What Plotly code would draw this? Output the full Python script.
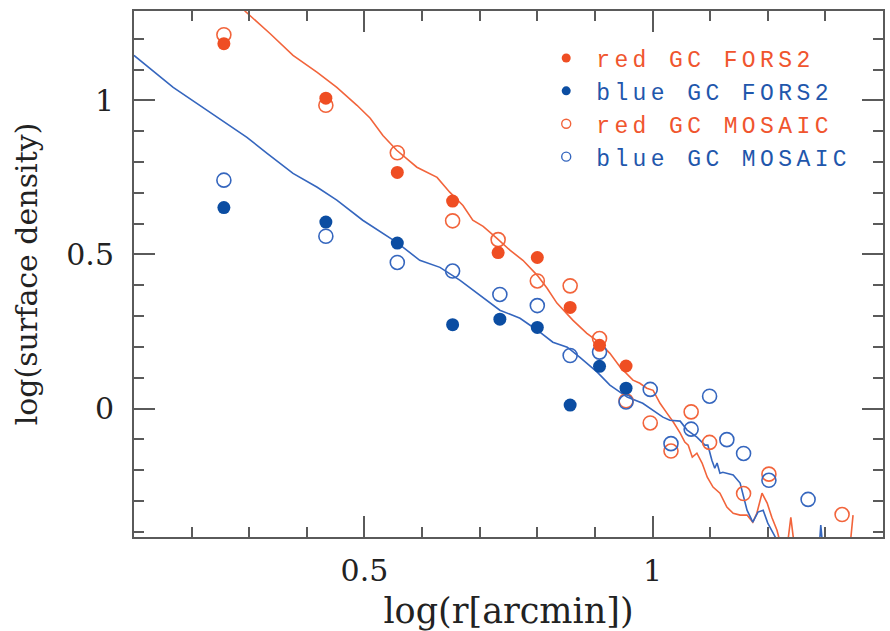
import plotly.graph_objects as go

# --- data: globular-cluster surface density profiles ---
# binned counts (log radius in arcmin, log surface density)
r_fors2 = [0.256, 0.433, 0.557, 0.653, 0.732, 0.800, 0.857, 0.908, 0.954]
red_fors2 = [1.184, 1.007, 0.766, 0.673, 0.506, 0.490, 0.328, 0.205, 0.138]
r_blue_fors2 = [0.256, 0.433, 0.557, 0.653, 0.735, 0.800, 0.857, 0.908, 0.954]
blue_fors2 = [0.652, 0.605, 0.537, 0.272, 0.290, 0.263, 0.011, 0.137, 0.066]

r_red_mosaic = [0.256, 0.433, 0.557, 0.653, 0.732, 0.800, 0.857, 0.908, 0.954,
                0.996, 1.032, 1.067, 1.099, 1.158, 1.202, 1.329]
red_mosaic = [1.213, 0.984, 0.830, 0.609, 0.548, 0.414, 0.398, 0.227, 0.025,
              -0.047, -0.138, -0.011, -0.110, -0.276, -0.213, -0.344]
r_blue_mosaic = [0.256, 0.433, 0.557, 0.653, 0.735, 0.800, 0.857, 0.908, 0.954,
                 0.996, 1.032, 1.067, 1.099, 1.129, 1.158, 1.202, 1.270]
blue_mosaic = [0.741, 0.559, 0.474, 0.446, 0.370, 0.334, 0.172, 0.183, 0.021,
               0.062, -0.114, -0.067, 0.040, -0.101, -0.146, -0.233, -0.295]

# running profiles
r_red_curve = [0.279, 0.293, 0.336, 0.376, 0.418, 0.452, 0.487, 0.510, 0.532, 0.556,
               0.591, 0.626, 0.648, 0.671, 0.688, 0.706, 0.730, 0.753, 0.775, 0.800,
               0.817, 0.834, 0.862, 0.886, 0.909, 0.926, 0.944, 0.966, 0.978, 0.990,
               1.001, 1.013, 1.025, 1.036, 1.048, 1.056, 1.062, 1.069, 1.077, 1.086,
               1.095, 1.105, 1.117, 1.129, 1.140, 1.152, 1.164, 1.174, 1.181, 1.190,
               1.199, 1.207, 1.216, 1.225, 1.233, 1.240, 1.247, 1.291, 1.334, 1.343,
               1.348]
red_curve = [1.324, 1.289, 1.217, 1.146, 1.091, 1.042, 0.984, 0.942, 0.886, 0.838,
             0.783, 0.750, 0.702, 0.659, 0.611, 0.591, 0.552, 0.513, 0.481, 0.432,
             0.390, 0.342, 0.286, 0.244, 0.212, 0.179, 0.134, 0.092, 0.082, 0.066,
             0.059, 0.017, -0.015, -0.044, -0.080, -0.109, -0.119, -0.158, -0.145, -0.177,
             -0.223, -0.255, -0.275, -0.320, -0.340, -0.346, -0.346, -0.369, -0.340, -0.275,
             -0.307, -0.353, -0.395, -0.460, -0.460, -0.353, -0.460, -0.490, -0.460, -0.443,
             -0.346]

r_blue_curve = [0.100, 0.168, 0.209, 0.261, 0.296, 0.331, 0.376, 0.418, 0.452, 0.497,
                0.556, 0.596, 0.631, 0.666, 0.701, 0.735, 0.770, 0.800, 0.827, 0.852,
                0.874, 0.904, 0.926, 0.956, 0.983, 1.001, 1.018, 1.030, 1.048, 1.060,
                1.077, 1.091, 1.096, 1.103, 1.108, 1.112, 1.117, 1.122, 1.140, 1.152,
                1.164, 1.174, 1.183, 1.192, 1.200, 1.213, 1.225, 1.256, 1.289, 1.292,
                1.296]
blue_curve = [1.146, 1.042, 0.990, 0.925, 0.880, 0.828, 0.763, 0.718, 0.676, 0.611,
              0.539, 0.481, 0.458, 0.416, 0.368, 0.319, 0.293, 0.254, 0.215, 0.199,
              0.166, 0.118, 0.076, 0.037, 0.017, -0.006, -0.028, -0.038, -0.041, -0.070,
              -0.093, -0.119, -0.119, -0.168, -0.194, -0.177, -0.210, -0.207, -0.216, -0.242,
              -0.330, -0.369, -0.336, -0.330, -0.372, -0.417, -0.476, -0.490, -0.460, -0.378,
              -0.460]

legend_names = ["red GC FORS2", "blue GC FORS2", "red GC MOSAIC", "blue GC MOSAIC"]

RED = "#EF4E23"
BLUE = "#0B4DA2"
RED_LINE = "#F2643B"
BLUE_LINE = "#3566BE"
RED_TXT = "#F0552E"
BLUE_TXT = "#1F57AC"
AXIS = "#5a5a5a"
TEXT = "#222222"

fig = go.Figure()

fig.add_trace(go.Scatter(x=r_red_curve, y=red_curve, mode="lines",
                         line=dict(color=RED_LINE, width=1.6), showlegend=False,
                         hoverinfo="skip"))
fig.add_trace(go.Scatter(x=r_blue_curve, y=blue_curve, mode="lines",
                         line=dict(color=BLUE_LINE, width=1.6), showlegend=False,
                         hoverinfo="skip"))

fig.add_trace(go.Scatter(x=r_red_mosaic, y=red_mosaic, mode="markers",
                         marker=dict(symbol="circle-open", size=14, color=RED_LINE,
                                     line=dict(width=1.6)), showlegend=False))
fig.add_trace(go.Scatter(x=r_blue_mosaic, y=blue_mosaic, mode="markers",
                         marker=dict(symbol="circle-open", size=14, color=BLUE_LINE,
                                     line=dict(width=1.6)), showlegend=False))
fig.add_trace(go.Scatter(x=r_fors2, y=red_fors2, mode="markers",
                         marker=dict(symbol="circle", size=13, color=RED,
                                     line=dict(width=0)),
                         showlegend=False))
fig.add_trace(go.Scatter(x=r_blue_fors2, y=blue_fors2, mode="markers",
                         marker=dict(symbol="circle", size=13, color=BLUE,
                                     line=dict(width=0)),
                         showlegend=False))

# legend entries (small symbols, coloured labels)
leg_styles = [
    ("circle", RED, RED_TXT, 0),
    ("circle", BLUE, BLUE_TXT, 0),
    ("circle-open", RED_LINE, RED_TXT, 1.4),
    ("circle-open", BLUE_LINE, BLUE_TXT, 1.4),
]
for i, (name, (sym, mcol, tcol, lw)) in enumerate(zip(legend_names, leg_styles)):
    fig.add_trace(go.Scatter(
        x=[None], y=[None], mode="markers",
        marker=dict(symbol=sym, size=9, color=mcol, line=dict(width=lw, color=mcol)),
        name=f'<span style="color:{tcol};letter-spacing:4.4px">{name}</span>',
        legendgroup=f"g{i}", showlegend=True))

axis_common = dict(
    showline=True, linecolor=AXIS, linewidth=2, mirror="allticks",
    ticks="inside", ticklen=21, tickwidth=2, tickcolor=AXIS,
    showgrid=False, zeroline=False, automargin=False,
    tickfont=dict(family="DejaVu Serif", size=30, color=TEXT),
    minor=dict(ticks="inside", ticklen=10, tickwidth=2, tickcolor=AXIS,
               dtick=0.1, tick0=0, showgrid=False),
)

fig.update_xaxes(range=[0.1, 1.4], dtick=0.5, tick0=0, ticklabelstandoff=6,
                 title=dict(text="log(r[arcmin])", standoff=14,
                            font=dict(family="DejaVu Serif", size=35, color=TEXT)),
                 **axis_common)
fig.update_yaxes(range=[-0.417, 1.29], dtick=0.5, tick0=0, ticklabelstandoff=12,
                 title=dict(text="log(surface density)", standoff=20,
                            font=dict(family="DejaVu Serif", size=30, color=TEXT)),
                 **axis_common)

fig.update_layout(
    width=890, height=631,
    margin=dict(l=134, r=7, t=11, b=94),
    plot_bgcolor="white", paper_bgcolor="white",
    legend=dict(x=0.537, y=0.9515, xanchor="left", yanchor="top",
                bgcolor="rgba(0,0,0,0)", borderwidth=0,
                font=dict(family="Liberation Mono", size=23),
                itemwidth=50, tracegroupgap=0, traceorder="grouped"),
)

fig.write_html("out.html")
